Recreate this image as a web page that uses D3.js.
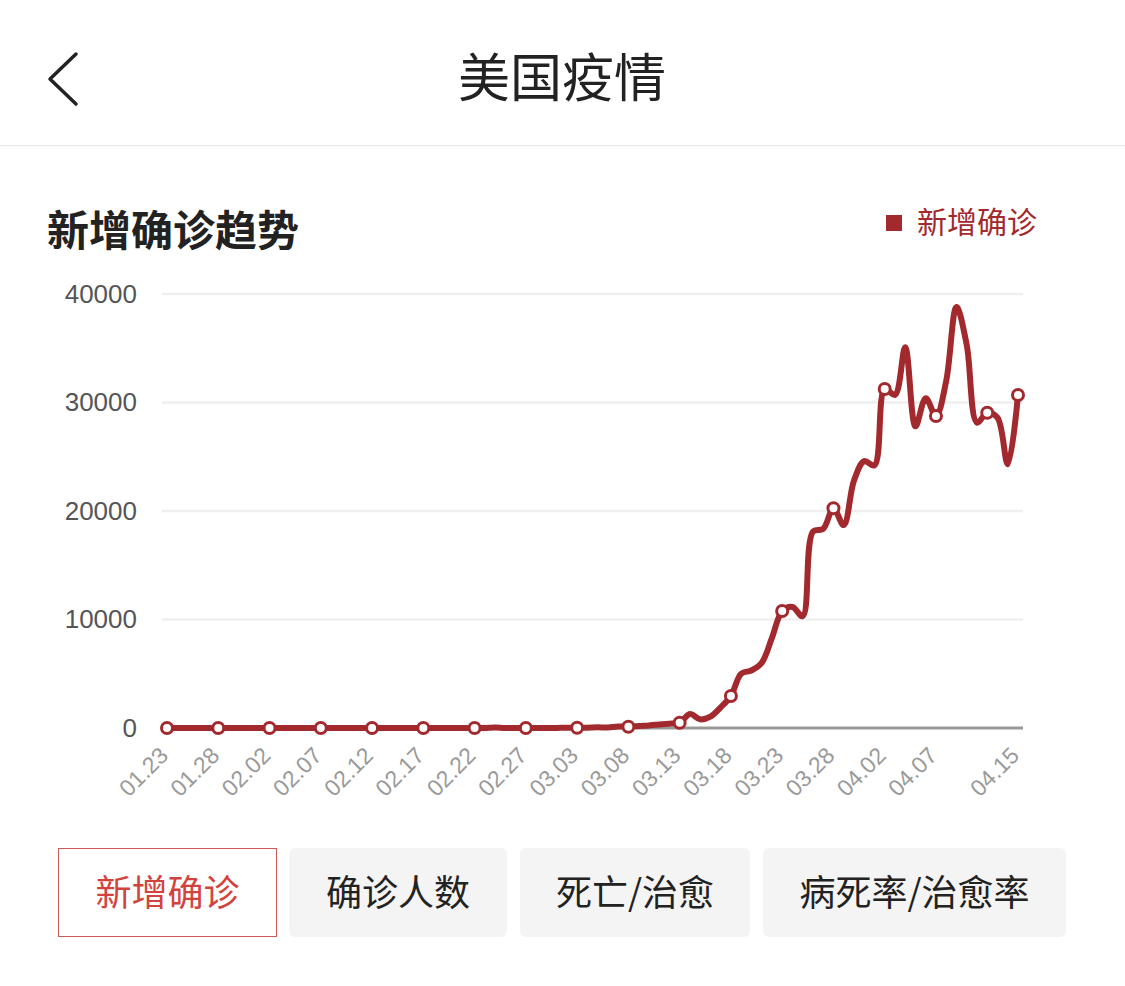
<!DOCTYPE html>
<html>
<head>
<meta charset="utf-8">
<script src="https://cdn.jsdelivr.net/npm/d3@7"></script>
<style>
  html, body { margin: 0; padding: 0; background: #fff; }
  svg { display: block; }
  .cjk { font-family: "Noto Sans CJK SC", "Noto Sans", sans-serif; }
  .num { font-family: "Liberation Sans", Arial, sans-serif; }
</style>
</head>
<body>
<svg id="chart" width="1125" height="986"></svg>
<script>
// ---------- data ----------
const pageTitle = "美国疫情";
const chartTitle = "新增确诊趋势";
const seriesName = "新增确诊";
const buttons = ["新增确诊", "确诊人数", "死亡/治愈", "病死率/治愈率"];

const dates = [
  "01.23","01.24","01.25","01.26","01.27","01.28","01.29","01.30","01.31",
  "02.01","02.02","02.03","02.04","02.05","02.06","02.07","02.08","02.09","02.10",
  "02.11","02.12","02.13","02.14","02.15","02.16","02.17","02.18","02.19","02.20",
  "02.21","02.22","02.23","02.24","02.25","02.26","02.27","02.28","02.29",
  "03.01","03.02","03.03","03.04","03.05","03.06","03.07","03.08","03.09","03.10",
  "03.11","03.12","03.13","03.14","03.15","03.16","03.17","03.18","03.19","03.20",
  "03.21","03.22","03.23","03.24","03.25","03.26","03.27","03.28","03.29","03.30",
  "03.31","04.01","04.02","04.03","04.04","04.05","04.06","04.07","04.08","04.09",
  "04.10","04.11","04.12","04.13","04.14","04.15"
];

const newConfirmed = [
  0, 1, 1, 3, 0, 0, 0, 1, 1,
  1, 1, 3, 0, 1, 0, 0, 0, 0, 1,
  1, 0, 1, 0, 0, 0, 0, 0, 0, 0,
  2, 0, 0, 36, 0, 6, 1, 2, 8,
  6, 23, 20, 31, 68, 45, 140, 116, 190, 240,
  320, 400, 480, 1300, 800, 1050, 1900, 2950, 5000, 5300,
  6000, 8300, 10780, 11150, 10300, 18100, 18350, 20250, 18700, 22800,
  24600, 24200, 31240, 30700, 35100, 27800, 30400, 28750, 32000, 38800,
  35300, 28150, 29050, 28600, 24300, 30690
];

const xTickLabels = ["01.23","01.28","02.02","02.07","02.12","02.17","02.22","02.27",
  "03.03","03.08","03.13","03.18","03.23","03.28","04.02","04.07","04.15"];
const markerDates = ["01.23","01.28","02.02","02.07","02.12","02.17","02.22","02.27",
  "03.03","03.08","03.13","03.18","03.23","03.28","04.02","04.07","04.12","04.15"];
const yTicks = [0, 10000, 20000, 30000, 40000];

// ---------- styles ----------
const RED = "#a22a2f";
const svg = d3.select("#chart");

// header
svg.append("path")
  .attr("d", "M76,54 L50,79 L76,104")
  .attr("fill", "none").attr("stroke", "#222").attr("stroke-width", 3.5)
  .attr("stroke-linecap", "round").attr("stroke-linejoin", "round");
svg.append("text").attr("class", "cjk")
  .attr("x", 562).attr("y", 97).attr("text-anchor", "middle")
  .attr("font-size", 52).attr("fill", "#222").text(pageTitle);
svg.append("line").attr("x1", 0).attr("x2", 1125).attr("y1", 145.5).attr("y2", 145.5)
  .attr("stroke", "#e8e8e8").attr("stroke-width", 1);

// chart title
svg.append("text").attr("class", "cjk")
  .attr("x", 47).attr("y", 246).attr("font-size", 42).attr("font-weight", "bold")
  .attr("fill", "#222").text(chartTitle);

// legend
svg.append("rect").attr("x", 886).attr("y", 215).attr("width", 16).attr("height", 16).attr("fill", RED);
svg.append("text").attr("class", "cjk")
  .attr("x", 917).attr("y", 233).attr("font-size", 30).attr("fill", RED).text(seriesName);

// scales
const x = d3.scalePoint().domain(dates).range([167, 1018]);
const y = d3.scaleLinear().domain([0, 40000]).range([728, 294]);
const gridX0 = 162, gridX1 = 1023;

// gridlines
svg.append("g").selectAll("line").data(yTicks.filter(d => d > 0)).join("line")
  .attr("x1", gridX0).attr("x2", gridX1)
  .attr("y1", d => y(d)).attr("y2", d => y(d))
  .attr("stroke", "#efefef").attr("stroke-width", 2.5);

// y axis labels
const yAxis = svg.append("g").attr("transform", `translate(${gridX0},0)`)
  .call(d3.axisLeft(y).tickValues(yTicks).tickSize(0).tickPadding(25).tickFormat(d3.format("d")));
yAxis.select(".domain").remove();
yAxis.selectAll("text").attr("class", "num").attr("font-size", 26).attr("fill", "#555")
  .attr("font-family", "Liberation Sans, Arial, sans-serif");

// baseline (x axis)
svg.append("line").attr("x1", gridX0).attr("x2", gridX1)
  .attr("y1", y(0)).attr("y2", y(0)).attr("stroke", "#999").attr("stroke-width", 3);

// x axis labels
const xAxis = svg.append("g").attr("transform", `translate(0,${y(0)})`)
  .call(d3.axisBottom(x).tickValues(xTickLabels).tickSize(0).tickPadding(0));
xAxis.select(".domain").remove();
xAxis.selectAll("text")
  .attr("font-family", "Liberation Sans, Arial, sans-serif")
  .attr("font-size", 23).attr("fill", "#9a9a9a")
  .attr("text-anchor", "end")
  .attr("y", 0).attr("dy", "0")
  .attr("transform", "translate(2,29) rotate(-45)");

// line
const data = dates.map((d, i) => ({ date: d, v: newConfirmed[i] }));
const line = d3.line().x(d => x(d.date)).y(d => y(d.v)).curve(d3.curveCatmullRom.alpha(0.5));
svg.append("path").datum(data).attr("d", line)
  .attr("fill", "none").attr("stroke", RED).attr("stroke-width", 6)
  .attr("stroke-linejoin", "round").attr("stroke-linecap", "round");

// markers
svg.append("g").selectAll("circle").data(data.filter(d => markerDates.includes(d.date))).join("circle")
  .attr("cx", d => x(d.date)).attr("cy", d => y(d.v)).attr("r", 5.5)
  .attr("fill", "#fff").attr("stroke", RED).attr("stroke-width", 3);

// buttons
const btnBoxes = [[58, 219], [289, 218], [520, 230], [763, 303]];
const bg = svg.append("g");
buttons.forEach((b, i) => {
  const [bx, bw] = btnBoxes[i];
  const active = i === 0;
  bg.append("rect").attr("x", active ? bx + 0.5 : bx).attr("y", active ? 848.5 : 848)
    .attr("width", active ? bw - 1 : bw).attr("height", active ? 88 : 89)
    .attr("rx", active ? 0 : 6)
    .attr("fill", active ? "#fff" : "#f4f4f4")
    .attr("stroke", active ? "#cf5a55" : "none").attr("stroke-width", 1);
  bg.append("text").attr("class", "cjk")
    .attr("x", bx + bw / 2).attr("y", 906).attr("text-anchor", "middle")
    .attr("font-size", 36).attr("fill", active ? "#d2433d" : "#222").text(b);
});
</script>
</body>
</html>
